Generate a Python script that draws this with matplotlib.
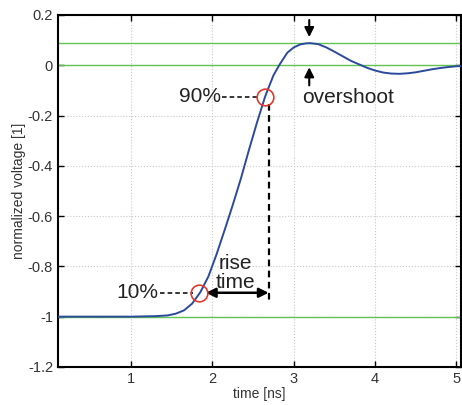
import numpy as np
import matplotlib
matplotlib.use("Agg")
from matplotlib import pyplot as plt

plt.rcParams['font.family'] = ['Liberation Sans', 'DejaVu Sans']
plt.rcParams['axes.unicode_minus'] = False

# step response
time_ns = [0.10, 0.50, 1.00, 1.30, 1.45, 1.55, 1.65, 1.75, 1.85, 1.95, 2.05, 2.15,
           2.25, 2.35, 2.45, 2.55, 2.65, 2.75, 2.82, 2.92, 3.00, 3.08, 3.15, 3.20,
           3.30, 3.40, 3.50, 3.60, 3.70, 3.80, 3.90, 4.00, 4.10, 4.20, 4.30, 4.40,
           4.50, 4.60, 4.70, 4.80, 4.90, 5.00, 5.07]
voltage = [-1.000, -1.000, -1.000, -0.998, -0.995, -0.988, -0.975, -0.948, -0.903,
           -0.840, -0.752, -0.655, -0.555, -0.450, -0.335, -0.225, -0.122, -0.040,
           0.000, 0.050, 0.071, 0.083, 0.087, 0.088, 0.084, 0.071, 0.054, 0.036,
           0.018, 0.004, -0.010, -0.021, -0.029, -0.033, -0.034, -0.032, -0.028,
           -0.022, -0.016, -0.011, -0.007, -0.004, -0.003]

ref_levels = [0.088, 0.0, -1.0]         # green lines: overshoot, final, start
pt10 = (1.84, -0.905)                   # 10% point
pt90 = (2.65, -0.125)                   # 90% point
rise_end = 2.69                         # vertical dashed marker
peak_t = 3.19

x_ticks = [1, 2, 3, 4, 5]
y_ticks = [-1.2, -1.0, -0.8, -0.6, -0.4, -0.2, 0.0, 0.2]
y_labels = ["-1.2", "-1", "-0.8", "-0.6", "-0.4", "-0.2", "0", "0.2"]

fig = plt.figure(figsize=(4.62, 4.05), dpi=100)
ax = fig.add_axes([0.1255, 0.094, 0.873, 0.869])

for lv in ref_levels:
    ax.axhline(lv, color='#62c450', lw=1.0, zorder=2)

ax.plot(time_ns, voltage, color='#2b4a9b', lw=1.4, zorder=3)

# circles
for p in (pt10, pt90):
    ax.plot(p[0], p[1], 'o', mfc='none', mec='#e03a2e', mew=1.2, ms=12, zorder=4)

# dashed leaders
ax.plot([1.36, 1.76], [pt10[1], pt10[1]], ls=(0, (3, 2)), color='k', lw=1.1)
ax.plot([2.12, 2.57], [pt90[1], pt90[1]], ls=(0, (3, 2)), color='k', lw=1.1)
ax.plot([rise_end, rise_end], [pt90[1] - 0.03, -0.935], ls=(0, (3, 2)), color='k', lw=1.6)

ax.text(1.34, pt10[1], "10%", fontsize=15, ha='right', va='center', color='#222222')
ax.text(2.10, pt90[1], "90%", fontsize=15, ha='right', va='center', color='#222222')

# rise time arrow
ax.annotate("", xy=(1.92, pt10[1]), xytext=(rise_end, pt10[1]),
            arrowprops=dict(arrowstyle='<|-|>', color='k', lw=1.8,
                            mutation_scale=14, shrinkA=0, shrinkB=0))
ax.text(2.28, -0.790, "rise", fontsize=15, ha='center', va='center', color='#222222')
ax.text(2.28, -0.866, "time", fontsize=15, ha='center', va='center', color='#222222')

# overshoot arrows
ax.annotate("", xy=(peak_t, 0.112), xytext=(peak_t, 0.18),
            arrowprops=dict(arrowstyle='-|>', color='k', lw=1.5,
                            mutation_scale=14, shrinkA=0, shrinkB=0))
ax.annotate("", xy=(peak_t, -0.008), xytext=(peak_t, -0.08),
            arrowprops=dict(arrowstyle='-|>', color='k', lw=1.5,
                            mutation_scale=14, shrinkA=0, shrinkB=0))
ax.text(3.10, -0.127, "overshoot", fontsize=15, ha='left', va='center', color='#222222')

ax.set_xlim(0.1, 5.06)
ax.set_ylim(-1.2, 0.2)
ax.set_xticks(x_ticks)
ax.set_yticks(y_ticks)
ax.set_yticklabels(y_labels)
ax.tick_params(direction='in', top=True, right=True, labelsize=10.5, length=4,
               width=1, labelcolor='#333333')
ax.grid(True, color='#c8c8c8', ls=':', lw=0.8)
for s in ax.spines.values():
    s.set_linewidth(1.5)
ax.set_xlabel("time [ns]", fontsize=10, labelpad=1, color='#333333')
ax.set_ylabel("normalized voltage [1]", fontsize=10, labelpad=1, color='#333333')

plt.savefig("out.png", dpi=100)
